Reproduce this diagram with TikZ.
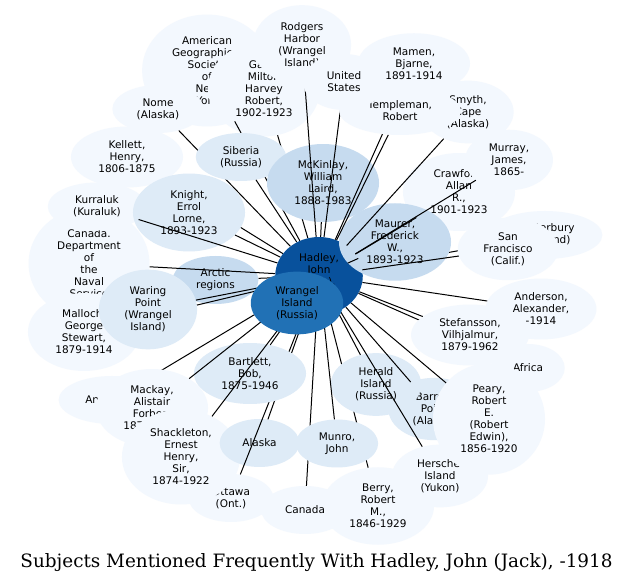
\documentclass[tikz,border=0pt]{standalone}
\usepackage{fontspec}
\usetikzlibrary{shapes.geometric}
\newfontfamily\lblfont{DejaVu Sans}
\newfontfamily\capfont{DejaVu Serif}
\definecolor{cLight}{HTML}{F3F8FE}
\definecolor{cMid}{HTML}{DEEBF7}
\definecolor{cMidB}{HTML}{C6DBEF}
\definecolor{cHad}{HTML}{08519C}
\definecolor{cWra}{HTML}{2171B5}
\pgfdeclarelayer{z0}\pgfdeclarelayer{z1}\pgfdeclarelayer{z2}\pgfdeclarelayer{z3}
\pgfdeclarelayer{z4}\pgfdeclarelayer{z5}\pgfdeclarelayer{z6}\pgfdeclarelayer{z7}
\pgfdeclarelayer{z8}\pgfdeclarelayer{z9}\pgfdeclarelayer{z10}\pgfdeclarelayer{z11}
\pgfdeclarelayer{z12}
\pgfsetlayers{z0,z1,z2,z3,z4,z5,z6,z7,z8,z9,z10,z11,z12,main}
\tikzset{
  subj/.style={ellipse, align=center, inner xsep=11pt, inner ysep=5.5pt,
    minimum height=48pt, draw=none, text=black,
    font=\lblfont\fontsize{10.5}{12}\selectfont},
  lt/.style={subj, fill=cLight},
  md/.style={subj, fill=cMid},
  mdb/.style={subj, fill=cMidB},
  link/.style={draw=black, line width=1pt},
}
\begin{document}
\begin{tikzpicture}[x=1pt,y=-1pt]
\begin{pgfonlayer}{z0}
\fill[white] (0,0) rectangle (633,585);
\end{pgfonlayer}
\useasboundingbox (0,0) rectangle (633,585);

% ---------- nodes ----------
\begin{pgfonlayer}{z1}
\node[lt] (ags) at (207,70.5) {American\\Geographical\\Society\\of\\New\\York};
\node[lt] (galle) at (264,89) {Galle,\\Milton\\Harvey\\Robert,\\1902-1923};
\node[lt] (rodgers) at (302,45) {Rodgers\\Harbor\\(Wrangel\\Island)};
\node[lt] (mamen) at (414,63.5) {Mamen,\\Bjarne,\\1891-1914};
\node[lt] (smyth) at (468,112) {Smyth,\\Cape\\(Alaska)};
\end{pgfonlayer}

\begin{pgfonlayer}{z3}
\node[lt] (nome) at (158,109) {Nome\\(Alaska)};
\node[lt] (kellett) at (127,157) {Kellett,\\Henry,\\1806-1875};
\node[lt] (candept) at (89,263.5) {Canada.\\Department\\of\\the\\Naval\\Service};
\node[lt] (kurraluk) at (97,206.5) {Kurraluk\\(Kuraluk)};
\node[lt] (malloch) at (84,332) {Malloch,\\George\\Stewart,\\1879-1914};
\node[lt] (antarctica) at (112,400) {Antarctica};
\node[lt] (mackay) at (152,408) {Mackay,\\Alistair\\Forbes,\\1878-1914};
\node[lt] (ottawa) at (231,498) {Ottawa\\(Ont.)};
\node[lt] (shackleton) at (181,457) {Shackleton,\\Ernest\\Henry,\\Sir,\\1874-1922};
\node[lt] (berry) at (378,506) {Berry,\\Robert\\M.,\\1846-1929};
\node[lt] (canada) at (305,510) {Canada};
\node[lt] (herschel) at (440,476) {Herschel\\Island\\(Yukon)};
\node[md] (barrow) at (434,409) {Barrow\\Point\\(Alaska)};
\node[lt] (africa) at (528,368) {Africa};
\node[lt] (peary) at (489,419) {Peary,\\Robert\\E.\\(Robert\\Edwin),\\1856-1920};
\node[lt] (canterbury) at (545,235) {Canterbury\\(England)};
\end{pgfonlayer}

\begin{pgfonlayer}{z5}
\node[md] (alaska) at (259.5,443) {Alaska};
\node[mdb] (arctic) at (215.5,280) {Arctic\\regions};
\node[lt] (sanfran) at (508,249) {San\\Francisco\\(Calif.)};
\node[lt] (crawford) at (459,192) {Crawford,\\Allan\\R.,\\1901-1923};
\node[lt] (murray) at (509,160) {Murray,\\James,\\1865-};
\node[lt] (anderson) at (541,309) {Anderson,\\Alexander,\\-1914};
\node[lt] (stefansson) at (470,335) {Stefansson,\\Vilhjalmur,\\1879-1962};
\end{pgfonlayer}

\begin{pgfonlayer}{z7}
\node[md] (knight) at (189,212.5) {Knight,\\Errol\\Lorne,\\1893-1923};
\node[md] (siberia) at (241,157) {Siberia\\(Russia)};
\node[mdb] (mckinlay) at (323,183) {McKinlay,\\William\\Laird,\\1888-1983};
\node[md] (waring) at (148,309.5) {Waring\\Point\\(Wrangel\\Island)};
\node[md] (bartlett) at (250,373.5) {Bartlett,\\Bob,\\1875-1946};
\node[md] (munro) at (337,443.5) {Munro,\\John};
\node[md] (herald) at (376,384.5) {Herald\\Island\\(Russia)};
\end{pgfonlayer}

\begin{pgfonlayer}{z9}
\node[subj, fill=cHad] (hadley) at (319,276) {Hadley,\\John\\(Jack),\\-1918};
\node[mdb] (maurer) at (395,242) {Maurer,\\Frederick\\W.,\\1893-1923};
\end{pgfonlayer}

\begin{pgfonlayer}{z11}
\node[lt] (templeman) at (400,111) {Templeman,\\Robert};
\node[lt, minimum width=82pt, minimum height=56pt] (us) at (344,82) {United\\States};
\end{pgfonlayer}

\begin{pgfonlayer}{z12}
\node[subj, fill=cWra] (wrangel) at (297,303) {Wrangel\\Island\\(Russia)};
\end{pgfonlayer}

% ---------- connectors ----------
\begin{pgfonlayer}{z2}
\draw[link] (hadley) -- (antarctica);
\end{pgfonlayer}

\begin{pgfonlayer}{z4}
\draw[link] (hadley) -- (canterbury);
\draw[link] (hadley) -- (africa);
\end{pgfonlayer}

\begin{pgfonlayer}{z6}
\draw[link] (hadley) -- (nome);
\draw[link] (hadley) -- (ags);
\draw[link] (hadley) -- (kellett);
\draw[link] (hadley) -- (galle);
\draw[link] (hadley) -- (malloch);
\draw[link] (hadley) -- (alaska);
\draw[link] (hadley) -- (ottawa);
\draw[link] (hadley) -- (canada);
\draw[link] (hadley) -- (berry);
\end{pgfonlayer}

\begin{pgfonlayer}{z8}
\draw[link] (hadley) -- (siberia);
\draw[link] (hadley) -- (knight);
\draw[link] (hadley) -- (kurraluk);
\draw[link] (hadley) -- (mckinlay);
\draw[link] (hadley) -- (rodgers);
\draw[link] (hadley) -- (us);
\draw[link] (hadley) -- (candept);
\draw[link] (hadley) -- (arctic);
\draw[link] (hadley) -- (waring);
\draw[link] (hadley) -- (bartlett);
\draw[link] (hadley) -- (shackleton);
\draw[link] (hadley) -- (mackay);
\draw[link] (hadley) -- (munro);
\draw[link] (hadley) -- (herald);
\draw[link] (hadley) -- (barrow);
\draw[link] (hadley) -- (herschel);
\draw[link] (hadley) -- (peary);
\draw[link] (hadley) -- (stefansson);
\draw[link] (hadley) -- (anderson);
\end{pgfonlayer}

\begin{pgfonlayer}{z10}
\draw[link] (hadley) -- (mamen);
\draw[link] (hadley) -- (templeman);
\draw[link] (hadley) -- (smyth);
\draw[link] (hadley) -- (crawford);
\draw[link] (hadley) -- (murray);
\draw[link] (hadley) -- (sanfran);
\draw[link] (hadley) -- (maurer);
\end{pgfonlayer}

\node[font=\capfont\fontsize{18.4}{22}\selectfont, inner sep=0pt] (caption) at (316.5,562.5)
  {Subjects Mentioned Frequently With Hadley, John (Jack), -1918};
\end{tikzpicture}
\end{document}
